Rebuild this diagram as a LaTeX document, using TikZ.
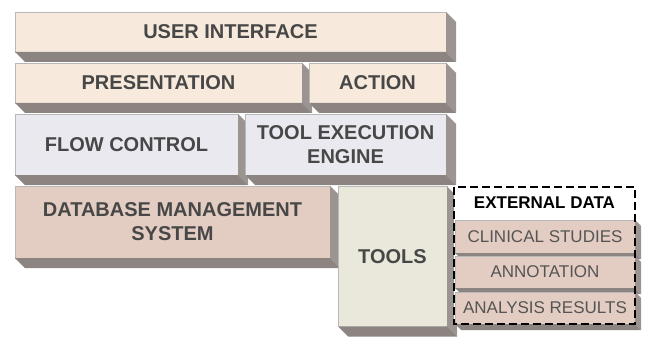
\documentclass[tikz,border=0pt]{standalone}
\usepackage{fontspec}
\setmainfont{Liberation Sans}
\definecolor{peach}{HTML}{F7EADD}
\definecolor{lav}{HTML}{E9E9EF}
\definecolor{pinkb}{HTML}{E3CCC2}
\definecolor{toolc}{HTML}{EAE7DB}
\definecolor{sideB}{HTML}{8C8480}
\definecolor{sideR}{HTML}{9C9490}
\definecolor{txt}{HTML}{474747}
\definecolor{txtl}{HTML}{555555}
\newcommand\boxshadow[2]{%
  \fill[sideR] (#1.north east) -- ([shift={(#2,#2)}]#1.north east) -- ([shift={(#2,#2)}]#1.south east) -- (#1.south east) -- cycle;
  \fill[sideB] (#1.south west) -- (#1.south east) -- ([shift={(#2,#2)}]#1.south east) -- ([shift={(#2,#2)}]#1.south west) -- cycle;}
\tikzset{
  face/.style={draw=black!28, line width=0.5pt, outer sep=0pt, inner sep=0pt, text=txt,
    font=\fontsize{20}{24}\selectfont\bfseries, align=center},
  inner/.style={draw=black!28, line width=0.5pt, outer sep=0pt, inner sep=0pt, fill=pinkb, text=txtl,
    minimum width=180pt, font=\fontsize{17}{20}\selectfont},
}
\begin{document}
\begin{tikzpicture}[x=1pt,y=-1pt]
\useasboundingbox (0,0) rectangle (646,337);
% row 1
\node[face, fill=peach, minimum width=431pt, minimum height=40pt] (ui) at (230.5,32) {USER INTERFACE};
\boxshadow{ui}{10}
% row 2
\node[face, fill=peach, minimum width=287pt, minimum height=40pt] (pres) at (158.5,83) {PRESENTATION};
\boxshadow{pres}{10}
\node[face, fill=peach, minimum width=137pt, minimum height=40pt] (act) at (377.5,83) {ACTION};
\boxshadow{act}{10}
% row 3
\node[face, fill=lav, minimum width=223pt, minimum height=61pt] (flow) at (126.5,144.5) {FLOW CONTROL};
\boxshadow{flow}{10}
\node[face, fill=lav, minimum width=201pt, minimum height=61pt] (tee) at (345.5,144.5) {TOOL EXECUTION\\ENGINE};
\boxshadow{tee}{10}
% row 4
\node[face, fill=pinkb, minimum width=315pt, minimum height=72pt] (db) at (172.5,222) {DATABASE MANAGEMENT\\SYSTEM};
\boxshadow{db}{10}
\node[face, fill=toolc, minimum width=109pt, minimum height=140pt] (tools) at (392.5,256.5) {TOOLS};
\boxshadow{tools}{10}
% external data
\node[fill=white, outer sep=0pt, inner sep=0pt, minimum width=181pt, minimum height=137pt] (ext) at (544.5,255.5) {};
\node[font=\fontsize{17}{20}\selectfont\bfseries, text=black, inner sep=0pt] (exthead) at (544.5,203) {EXTERNAL DATA};
\node[inner, minimum height=33pt] (clin) at (545,236.5) {CLINICAL STUDIES};
\boxshadow{clin}{6}
\node[inner, minimum height=32pt] (ann) at (545,272) {ANNOTATION};
\boxshadow{ann}{6}
\node[inner, minimum height=32pt] (ana) at (545,308) {ANALYSIS RESULTS};
\boxshadow{ana}{6}
\draw[black, line width=1.4pt, dash pattern=on 8pt off 4pt] (ext.north west) rectangle (ext.south east);
\end{tikzpicture}
\end{document}
